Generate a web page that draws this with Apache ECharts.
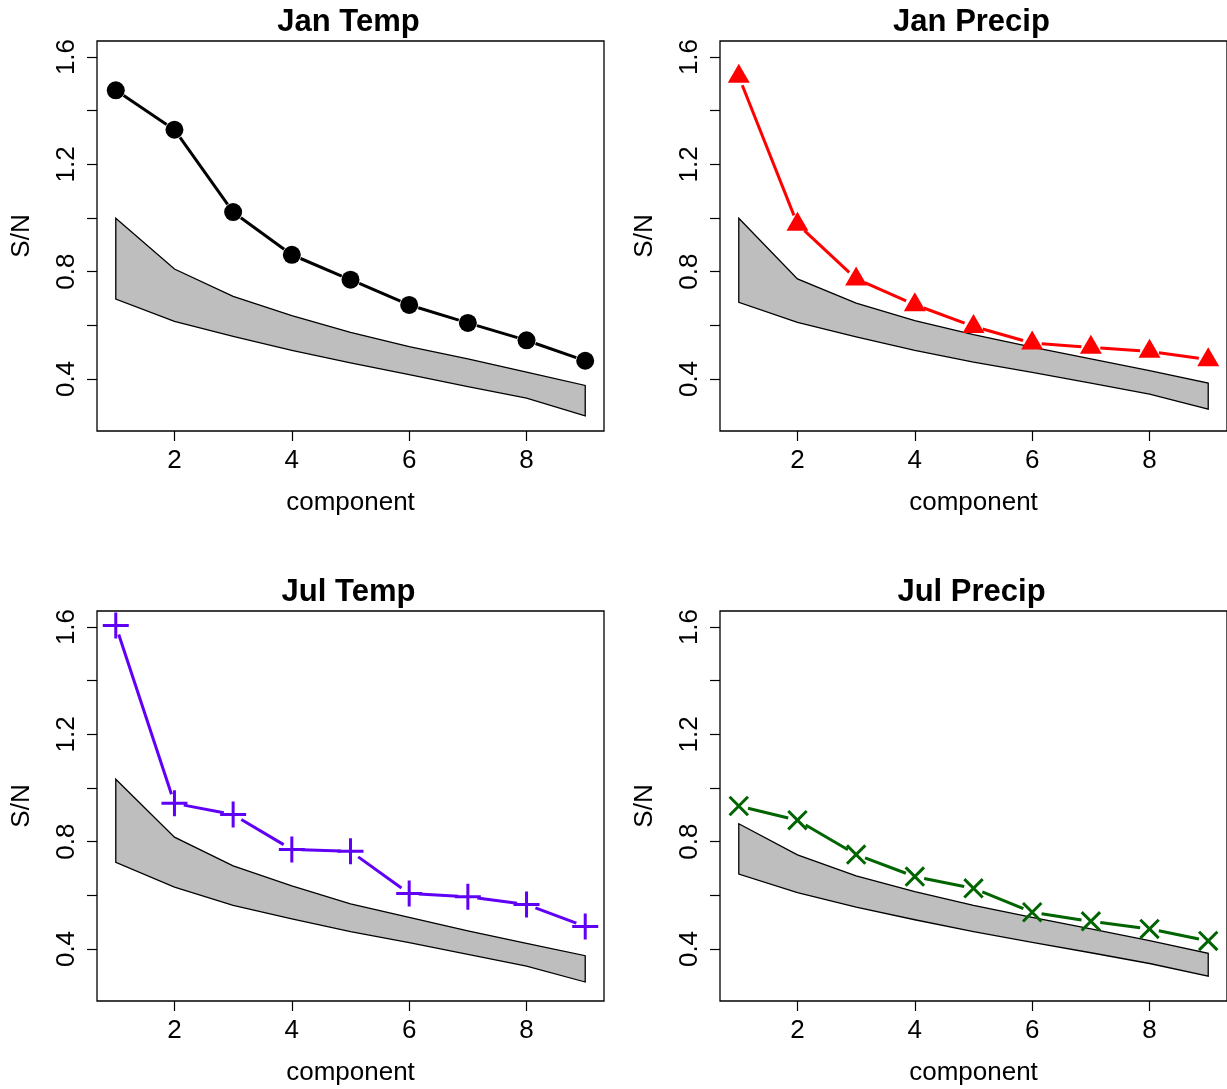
<!DOCTYPE html>
<html><head><meta charset="utf-8">
<script src="https://cdn.jsdelivr.net/npm/echarts@6/dist/echarts.min.js"></script>
<style>html,body{margin:0;padding:0;background:#fff}#c{width:1227px;height:1089px}</style>
</head><body><div id="c"></div>
<script>
const components = [1, 2, 3, 4, 5, 6, 7, 8, 9];
const xTicks = [2, 4, 6, 8];
const yTicks = [0.4, 0.6, 0.8, 1.0, 1.2, 1.4, 1.6];
const yLabels = [0.4, 0.8, 1.2, 1.6];
const titles = ['Jan Temp', 'Jan Precip', 'Jul Temp', 'Jul Precip'];
const xName = 'component';
const yName = 'S/N';

const janTemp     = [1.476, 1.329, 1.022, 0.863, 0.770, 0.676, 0.609, 0.544, 0.468];
const janTempHi   = [0.999, 0.810, 0.708, 0.636, 0.574, 0.521, 0.475, 0.426, 0.376];
const janTempLo   = [0.698, 0.615, 0.559, 0.507, 0.460, 0.416, 0.372, 0.329, 0.263];

const janPrecip   = [1.528, 0.977, 0.773, 0.677, 0.596, 0.534, 0.518, 0.503, 0.472];
const janPrecipHi = [0.999, 0.773, 0.683, 0.618, 0.565, 0.519, 0.475, 0.431, 0.385];
const janPrecipLo = [0.686, 0.611, 0.557, 0.507, 0.463, 0.425, 0.385, 0.344, 0.288];

const julTemp     = [1.606, 0.943, 0.901, 0.771, 0.764, 0.607, 0.595, 0.566, 0.484];
const julTempHi   = [1.033, 0.817, 0.710, 0.635, 0.568, 0.518, 0.468, 0.421, 0.375];
const julTempLo   = [0.723, 0.631, 0.563, 0.512, 0.465, 0.424, 0.380, 0.336, 0.277];

const julPrecip   = [0.933, 0.880, 0.752, 0.670, 0.626, 0.537, 0.503, 0.475, 0.430];
const julPrecipHi = [0.867, 0.751, 0.673, 0.614, 0.563, 0.518, 0.475, 0.431, 0.384];
const julPrecipLo = [0.679, 0.610, 0.556, 0.509, 0.465, 0.425, 0.386, 0.346, 0.299];

const FONT = '"Liberation Sans", Arial, Helvetica, sans-serif';
const PLUS = 'path://M11.5,0H14.5V26H11.5Z M0,11.5H26V14.5H0Z';

const panels = [
  {vals: janTemp, hi: janTempHi, lo: janTempLo, color: '#000000', symbol: 'circle', size: 18, offset: [0, 0], rotate: 0, left: 97, top: 41},
  {vals: janPrecip, hi: janPrecipHi, lo: janPrecipLo, color: '#FF0000', symbol: 'triangle', size: [22, 19], offset: [0, -3], rotate: 0, left: 720, top: 41},
  {vals: julTemp, hi: julTempHi, lo: julTempLo, color: '#6000F5', symbol: PLUS, size: 26, offset: [0, 0], rotate: 0, left: 97, top: 611},
  {vals: julPrecip, hi: julPrecipHi, lo: julPrecipLo, color: '#006400', symbol: PLUS, size: 26, offset: [0, 0], rotate: 45, left: 720, top: 611}
];
const W = 507, H = 390, GAP = 9.5;

const grid = [], xAxis = [], yAxis = [], series = [], title = [];
panels.forEach((p, i) => {
  grid.push({left: p.left, top: p.top, width: W, height: H, show: true, borderColor: '#000', borderWidth: 1.3, backgroundColor: 'transparent'});
  title.push({text: titles[i], left: p.left + W / 2 - 2, top: p.top - 34, textAlign: 'center', padding: 0,
    textStyle: {fontSize: 31, fontWeight: 'bold', color: '#000', fontFamily: FONT}});
  xAxis.push({type: 'value', gridIndex: i, min: 0.68, max: 9.32,
    axisLine: {show: false}, splitLine: {show: false},
    axisTick: {show: true, length: 10, lineStyle: {color: '#000', width: 1.2}, customValues: xTicks},
    axisLabel: {customValues: xTicks, fontSize: 26, color: '#000', fontFamily: FONT, margin: 17},
    name: xName, nameLocation: 'middle', nameGap: 59,
    nameTextStyle: {fontSize: 26, color: '#000', fontFamily: FONT}});
  yAxis.push({type: 'value', gridIndex: i, min: 0.2062, max: 1.6598,
    axisLine: {show: false}, splitLine: {show: false},
    axisTick: {show: true, length: 10, lineStyle: {color: '#000', width: 1.2}, customValues: yTicks},
    axisLabel: {customValues: yLabels, rotate: 90, fontSize: 26, color: '#000', fontFamily: FONT, margin: 17,
      formatter: v => v.toFixed(1)},
    name: yName, nameLocation: 'middle', nameGap: 62, nameRotate: 90,
    nameTextStyle: {fontSize: 26, color: '#000', fontFamily: FONT}});

  const rows = components.map((c, k) => [c, p.lo[k], p.hi[k]]);
  series.push({type: 'custom', xAxisIndex: i, yAxisIndex: i, data: rows, encode: {x: 0, y: [1, 2]}, silent: true, z: 1,
    renderItem(params, api) {
      if (params.dataIndex !== 0) return null;
      const pts = [];
      for (let k = 0; k < rows.length; k++) pts.push(api.coord([rows[k][0], rows[k][2]]));
      for (let k = rows.length - 1; k >= 0; k--) pts.push(api.coord([rows[k][0], rows[k][1]]));
      return {type: 'polygon', shape: {points: pts}, style: {fill: '#BEBEBE', stroke: '#000', lineWidth: 1.3}};
    }});

  const segs = [];
  for (let k = 0; k < components.length - 1; k++) segs.push([components[k], p.vals[k], components[k + 1], p.vals[k + 1]]);
  series.push({type: 'custom', xAxisIndex: i, yAxisIndex: i, data: segs, encode: {x: [0, 2], y: [1, 3]}, silent: true, z: 2,
    renderItem(params, api) {
      const a = api.coord([api.value(0), api.value(1)]);
      const b = api.coord([api.value(2), api.value(3)]);
      const dx = b[0] - a[0], dy = b[1] - a[1], L = Math.hypot(dx, dy);
      if (L <= 2 * GAP) return null;
      const ux = dx / L, uy = dy / L;
      return {type: 'line', shape: {x1: a[0] + ux * GAP, y1: a[1] + uy * GAP, x2: b[0] - ux * GAP, y2: b[1] - uy * GAP},
        style: {stroke: p.color, lineWidth: 3}};
    }});

  series.push({type: 'scatter', xAxisIndex: i, yAxisIndex: i, data: components.map((c, k) => [c, p.vals[k]]),
    symbol: p.symbol, symbolSize: p.size, symbolOffset: p.offset, symbolRotate: p.rotate, z: 3, silent: true,
    itemStyle: {color: p.color, opacity: 1}});
});

const chart = echarts.init(document.getElementById('c'), null, {renderer: 'canvas'});
chart.setOption({animation: false, backgroundColor: '#fff', title, grid, xAxis, yAxis, series});
</script></body></html>
